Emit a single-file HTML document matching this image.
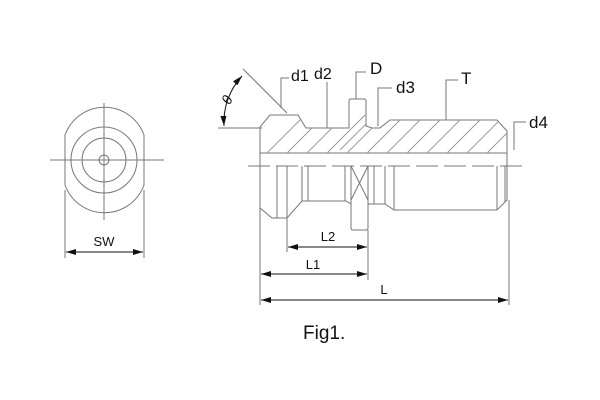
<!DOCTYPE html>
<html><head><style>html,body{margin:0;padding:0;background:#fff;width:600px;height:400px;overflow:hidden}</style></head>
<body>
<svg width="600" height="400" viewBox="0 0 600 400" xmlns="http://www.w3.org/2000/svg" font-family="Liberation Sans, sans-serif">
<defs>
<clipPath id="hc"><path d="M260,127 L270,115 L298,115 L306,128 L349,128 L349,99 L366,99 L366,128 L380,128 L390,120 L497,120 L507,131 L507,153 L260,153 Z"/></clipPath>
<marker id="a" viewBox="0 0 10 6" refX="10" refY="3" markerWidth="10" markerHeight="6" orient="auto-start-reverse" markerUnits="userSpaceOnUse"><path d="M0,0 L10,3 L0,6 Z" fill="#111"/></marker>
</defs>
<g fill="none" stroke="#777" stroke-width="1">
<path d="M65,135 A42,42 0 0 1 144,135 L144,185 A42,42 0 0 1 65,185 Z"/>
<circle cx="104" cy="160" r="33"/>
<circle cx="104" cy="160" r="22"/>
<circle cx="104" cy="160" r="5"/>
<line x1="104" y1="103" x2="104" y2="220"/>
<line x1="50" y1="160" x2="164" y2="160"/>
<line x1="65" y1="190" x2="65" y2="258"/>
<line x1="144" y1="190" x2="144" y2="258"/>
<path d="M260,166 L260,127 L270,115 L298,115 L306,128 L349,128 L349,101 Q349,99 351,99 L364,99 Q366,99 366,101 L366,126 L372,128 L380,128 L390,120 L497,120 L507,131 L507,166"/>
<line x1="260" y1="153" x2="507" y2="153"/>
<line x1="218" y1="128" x2="262" y2="128"/>
<line x1="248" y1="166" x2="525" y2="166" stroke-dasharray="22,6"/>
<g clip-path="url(#hc)" stroke="#999">
<path d="M255,165 L305,115 M275,165 L325,115 M295,165 L345,115 M315,165 L365,115 M335,165 L385,115 M355,165 L405,115 M375,165 L425,115 M395,165 L445,115 M415,165 L465,115 M435,165 L485,115 M455,165 L505,115 M475,165 L525,115 M495,165 L545,115 M340,150 L390,100"/>
</g>
<path d="M260,166 L260,208 L272,218 L287,218 L302,201 L346,201 L351,204 L351,228 Q351,230 353,230 L366,230 Q368,230 368,228 L368,204 L385,204 L394,210 L497,210 L507,200 L507,166"/>
<path d="M277,166 L277,218 M287,166 L287,218 M302,166 L302,201 M308,166 L308,201 M345,166 L345,201 M351,166 L351,204 M368,166 L368,204 M374,166 L374,204 M385,166 L385,204 M394,166 L394,210 M497,166 L497,210 M505,166 L505,202"/>
<path d="M351,166 L368,200 M368,166 L351,200"/>
<path d="M260,208 L260,305 M287,218 L287,252 M368,230 L368,280 M509,200 L509,305"/>
<path d="M281,108 L281,78 L289,78 M327,128 L327,82 M356,99 L356,72 L366,72 M378,126 L378,88 L392,88 M446,120 L446,80 L458,80 M514,150 L514,122 L526,122"/>
<path d="M243,69 L287,113"/>
</g>
<g stroke="#111" stroke-width="1" fill="none">
<line x1="66" y1="252" x2="143" y2="252" marker-start="url(#a)" marker-end="url(#a)"/>
<line x1="288" y1="247" x2="367" y2="247" marker-start="url(#a)" marker-end="url(#a)"/>
<line x1="261" y1="274" x2="367" y2="274" marker-start="url(#a)" marker-end="url(#a)"/>
<line x1="261" y1="300" x2="508" y2="300" marker-start="url(#a)" marker-end="url(#a)"/>
<path d="M224,126 A68,68 0 0 1 242,76" marker-start="url(#a)" marker-end="url(#a)"/>
</g>
<g fill="#111">
<text x="104" y="246" font-size="13" text-anchor="middle">SW</text>
<text x="328" y="241" font-size="13" text-anchor="middle">L2</text>
<text x="313" y="269" font-size="13" text-anchor="middle">L1</text>
<text x="384" y="294" font-size="13" text-anchor="middle">L</text>
<text x="291" y="81" font-size="16">d1</text>
<text x="314" y="79" font-size="16">d2</text>
<text x="370" y="74" font-size="17">D</text>
<text x="396" y="93" font-size="17">d3</text>
<text x="461" y="84" font-size="17">T</text>
<text x="529" y="128" font-size="17">d4</text>
<text x="224" y="104" font-size="14" font-style="italic" transform="rotate(-65 228 100)">θ</text>
<text x="303" y="339" font-size="19">Fig1.</text>
</g>
</svg>
</body></html>
